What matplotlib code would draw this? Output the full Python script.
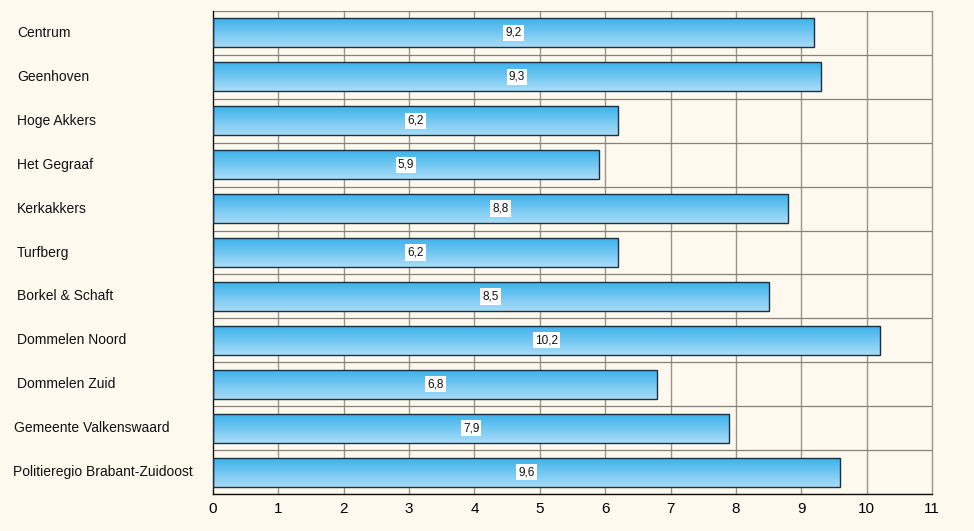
import numpy as np
import matplotlib
matplotlib.use("Agg")
import matplotlib.pyplot as plt
from matplotlib.colors import LinearSegmentedColormap

categories = ["Centrum", "Geenhoven", "Hoge Akkers", "Het Gegraaf", "Kerkakkers",
              "Turfberg", "Borkel & Schaft", "Dommelen Noord", "Dommelen Zuid",
              "Gemeente Valkenswaard", "Politieregio Brabant-Zuidoost"]
values = [9.2, 9.3, 6.2, 5.9, 8.8, 6.2, 8.5, 10.2, 6.8, 7.9, 9.6]
value_labels = ["9,2", "9,3", "6,2", "5,9", "8,8", "6,2", "8,5", "10,2", "6,8", "7,9", "9,6"]
xticks = list(range(0, 12))

plt.rcParams['font.family'] = ['Liberation Sans', 'DejaVu Sans']
bg = "#fdf9ef"
fig = plt.figure(figsize=(9.74, 5.31), dpi=100, facecolor=bg)
ax = fig.add_axes([213/974, 1-494/531, (932-213)/974, (494-11)/531])
ax.set_facecolor(bg)

n = len(categories)
ypos = np.arange(n)

cmap = LinearSegmentedColormap.from_list("g", ["#3cb3ec", "#a9dcf8"])
grad = np.linspace(0, 1, 64).reshape(-1, 1)
bars = ax.barh(ypos, values, height=0.66, facecolor="none", edgecolor="#1e3040",
               linewidth=1.0, zorder=3)
for b in bars:
    x0, y0 = b.get_x(), b.get_y()
    w, h = b.get_width(), b.get_height()
    im = ax.imshow(grad, cmap=cmap, aspect="auto", extent=(x0, x0 + w, y0 + h, y0),
                   zorder=2, interpolation="bilinear")
    im.set_clip_path(b)
ax.set_xlim(0, 11)
ax.set_ylim(n - 0.5, -0.5)

for y, v, lab in zip(ypos, values, value_labels):
    ax.text(v / 2, y, lab, ha="center", va="center", fontsize=8.5, color="#111111",
            zorder=5, bbox=dict(boxstyle="square,pad=0.18", facecolor="white",
                                edgecolor="none"))

# grid
for x in xticks[1:]:
    ax.axvline(x, color="#9a968c", linewidth=1.0, zorder=1, clip_on=False)
for k in range(n + 1):
    ax.axhline(k - 0.5, color="#858279", linewidth=0.9, zorder=1)

ax.set_xticks(xticks)
ax.set_xticklabels([str(t) for t in xticks], fontsize=11)
ax.tick_params(axis="x", length=0, pad=6)
ax.set_yticks([])
for s in ["top", "right"]:
    ax.spines[s].set_visible(False)
ax.spines["left"].set_color("#111111")
ax.spines["bottom"].set_color("#111111")
ax.spines["left"].set_linewidth(1.0)
ax.spines["bottom"].set_linewidth(1.0)

label_x = [17, 17, 17, 17, 17, 17, 17, 17, 17, 14, 13]
for y, lab, lx in zip(ypos, categories, label_x):
    yd = ax.transData.transform((0, y))[1]
    fig.text(lx / 974, yd / 531, lab, ha="left", va="center", fontsize=10,
             color="#111111")

fig.savefig("out.png", dpi=100, facecolor=bg)
